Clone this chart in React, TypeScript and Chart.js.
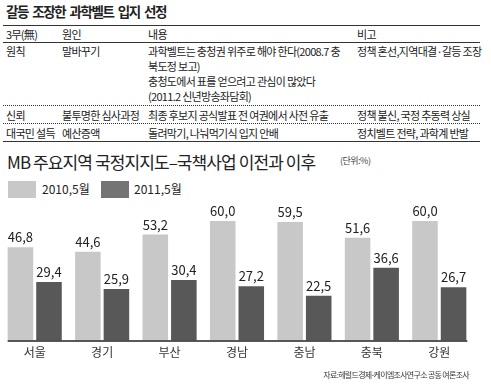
import React, { useEffect, useRef } from "react";
import { Chart, registerables } from "chart.js";

Chart.register(...registerables);

const pageTitle = "갈등 조장한 과학벨트 입지 선정";
const tableHeader = ["3무(無)", "원인", "내용", "비고"];
const rowPrinciple = ["원칙", "말바꾸기", "과학벨트는 충청권 위주로 해야 한다(2008.7 충|북도정 보고)|충청도에서 표를 얻으려고 관심이 많았다|(2011.2 신년방송좌담회)", "정책 혼선,지역대결·갈등 조장"];
const rowTrust = ["신뢰", "불투명한 심사과정", "최종 후보지 공식발표 전 여권에서 사전 유출", "정책 불신, 국정 추동력 상실"];
const rowPersuade = ["대국민 설득", "예산증액", "돌려막기, 나눠먹기식 입지 안배", "정치벨트 전략, 과학계 반발"];

const chartTitle = "MB 주요지역 국정지지도–국책사업 이전과 이후";
const unitLabel = "(단위:%)";
const sourceLabel = "자료:헤럴드경제-케이엠조사연구소 공동 여론조사";

const categories = ["서울", "경기", "부산", "경남", "충남", "충북", "강원"];
const seriesLabels = ["2010,5월", "2011,5월"];
const may2010 = [46.8, 44.6, 53.2, 60.0, 59.5, 51.6, 60.0];
const may2011 = [29.4, 25.9, 30.4, 27.2, 22.5, 36.6, 26.7];

const FONT = "'Liberation Sans Narrow', 'Noto Sans CJK KR', sans-serif";
const LIGHT = "#c8c8c8";
const DARK = "#595858";
const LEGEND_DARK = "#747474";

const fmt = (v: number) => v.toFixed(1).replace(".", ",");

const barExtras = {
  id: "barExtras",
  afterDatasetsDraw(chart: any) {
    const ctx = chart.ctx;
    ctx.save();
    ctx.font = `13px ${FONT}`;
    ctx.fillStyle = "#222";
    ctx.textAlign = "center";
    ctx.textBaseline = "alphabetic";
    chart.data.datasets.forEach((ds: any, i: number) => {
      chart.getDatasetMeta(i).data.forEach((bar: any, j: number) => {
        ctx.fillText(fmt(ds.data[j]), bar.x, bar.y - 5);
      });
    });
    const first = chart.getDatasetMeta(0).data[0];
    const lastMeta = chart.getDatasetMeta(chart.data.datasets.length - 1).data;
    const last = lastMeta[lastMeta.length - 1];
    const x0 = first.x - first.width / 2;
    const x1 = last.x + last.width / 2 + 1;
    const y = chart.chartArea.bottom + 0.5;
    ctx.strokeStyle = "#222";
    ctx.lineWidth = 1.5;
    ctx.beginPath();
    ctx.moveTo(x0, y);
    ctx.lineTo(x1, y);
    ctx.stroke();
    ctx.restore();
  },
};

function Txt(props: { x: number; cy: number; size: number; ls?: number; ws?: number; text: string; weight?: any; right?: number; color?: string }) {
  const lh = Math.round(props.size * 1.3);
  const style: any = {
    position: "absolute",
    top: props.cy - lh / 2,
    lineHeight: lh + "px",
    fontSize: props.size,
    letterSpacing: (props.ls ?? 0) + "px",
    wordSpacing: (props.ws ?? 0) + "px",
    fontWeight: props.weight ?? "normal",
    whiteSpace: "nowrap",
    color: props.color ?? "#222",
    fontFamily: FONT,
  };
  if (props.right !== undefined) style.right = props.right;
  else style.left = props.x;
  return <div style={style}>{props.text}</div>;
}

const colX = [6, 62, 148, 357];
const TS = 11;
const TLS = -0.7;

function Row({ cells, cy }: { cells: string[]; cy: number }) {
  return (
    <>
      {cells.map((c, i) =>
        c.split("|").map((line, k) => (
          <Txt key={i + "-" + k} x={colX[i]} cy={cy + k * 15} size={TS} ls={TLS} text={line} />
        ))
      )}
    </>
  );
}

function HLine({ y, h, dotted }: { y: number; h: number; dotted?: boolean }) {
  return (
    <div
      style={{
        position: "absolute",
        left: 3,
        width: 477,
        top: y,
        height: 0,
        borderTop: `${h}px ${dotted ? "dotted" : "solid"} #333`,
      }}
    />
  );
}

export default function App() {
  const ref = useRef<HTMLCanvasElement>(null);
  useEffect(() => {
    if (!ref.current) return;
    const chart = new Chart(ref.current, {
      type: "bar",
      data: {
        labels: categories,
        datasets: [
          { label: seriesLabels[0], data: may2010, backgroundColor: LIGHT, categoryPercentage: 0.847, barPercentage: 0.895 },
          { label: seriesLabels[1], data: may2011, backgroundColor: DARK, categoryPercentage: 0.847, barPercentage: 0.895 },
        ],
      },
      options: {
        responsive: false,
        animation: false,
        layout: { padding: { left: 1, right: 18, top: 11, bottom: 21 } },
        plugins: { legend: { display: false }, tooltip: { enabled: false } },
        scales: {
          x: {
            grid: { display: false, drawTicks: false },
            border: { display: false },
            ticks: { font: { family: FONT, size: 12 }, color: "#333", padding: 5 },
          },
          y: { display: false, min: 0, max: 65 },
        },
      },
      plugins: [barExtras],
    });
    return () => chart.destroy();
  }, []);

  return (
    <div style={{ position: "absolute", left: 0, top: 0, width: 491, height: 386, background: "#fff", overflow: "hidden" }}>
      <Txt x={6} cy={10.5} size={13.5} ls={-1.4} ws={2.5} weight="bold" text={pageTitle} />
      <HLine y={25} h={1} />
      <Row cells={tableHeader} cy={34} />
      <HLine y={42} h={1} />
      <Row cells={rowPrinciple} cy={51} />
      <HLine y={105} h={1} dotted />
      <Row cells={rowTrust} cy={114.5} />
      <HLine y={123} h={1} dotted />
      <Row cells={rowPersuade} cy={132.5} />
      <HLine y={141} h={1.5} />

      <Txt x={7} cy={161.5} size={17} ls={-0.9} text={chartTitle} />
      <Txt x={340} cy={161} size={9} ls={-0.5} text={unitLabel} color="#444" />

      <div style={{ position: "absolute", left: 8, top: 181, width: 28, height: 17, background: LIGHT }} />
      <Txt x={42} cy={189} size={12} text={seriesLabels[0]} />
      <div style={{ position: "absolute", left: 101, top: 181, width: 28, height: 17, background: LEGEND_DARK }} />
      <Txt x={134} cy={189} size={12} text={seriesLabels[1]} />

      <canvas ref={ref} width={491} height={186} style={{ position: "absolute", left: 0, top: 200 }} />

      <Txt x={0} right={22} cy={375} size={8} ls={-0.7} text={sourceLabel} color="#333" />
    </div>
  );
}
